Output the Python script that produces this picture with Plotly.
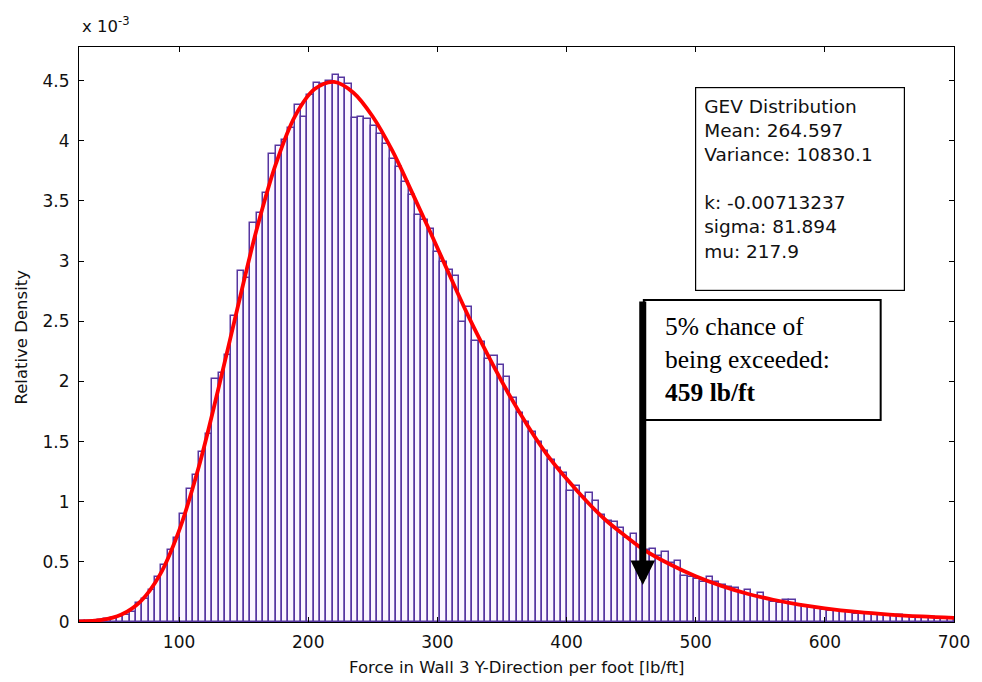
import plotly.graph_objects as go

# ---------------- data (density values in units of 1e-3) ----------------
bin_left = 22.5      # lb/ft, left edge of first histogram bin
bin_width = 4.91     # lb/ft
hist_density_e3 = [
    0.005, 0.008, 0.012, 0.018, 0.028, 0.035, 0.045, 0.06, 0.085, 0.16,
    0.19, 0.27, 0.37, 0.475, 0.60, 0.70, 0.895, 1.105, 1.22, 1.415,
    1.56, 2.02, 2.07, 2.22, 2.54, 2.92, 2.86, 3.32, 3.40, 3.57,
    3.89, 3.96, 4.01, 4.11, 4.30, 4.20, 4.38, 4.48, 4.47, 4.50,
    4.55, 4.52, 4.47, 4.19, 4.20, 4.18, 4.12, 4.06, 3.97, 3.85,
    3.78, 3.66, 3.55, 3.38, 3.34, 3.27, 3.08, 2.99, 2.93, 2.88,
    2.49, 2.62, 2.34, 2.33, 2.19, 2.21, 2.14, 2.04, 1.86, 1.74,
    1.66, 1.58, 1.50, 1.42, 1.35, 1.28, 1.24, 1.09, 1.13, 1.04,
    1.07, 1.01, 0.89, 0.84, 0.83, 0.78, 0.70, 0.73, 0.63, 0.60,
    0.61, 0.55, 0.58, 0.49, 0.51, 0.38, 0.37, 0.36, 0.33, 0.37,
    0.335, 0.31, 0.29, 0.28, 0.24, 0.27, 0.22, 0.24, 0.19, 0.17,
    0.16, 0.18, 0.18, 0.14, 0.13, 0.125, 0.11, 0.10, 0.095, 0.09,
    0.095, 0.085, 0.07, 0.075, 0.065, 0.07, 0.06, 0.06, 0.05, 0.055,
    0.045, 0.045, 0.04, 0.035, 0.04, 0.035, 0.035, 0.03,
]
fit_x = [22.5, 40, 55, 70, 85, 100, 115, 130, 145, 160, 175, 190, 205, 220, 235,
         250, 265, 280, 295, 310, 325, 340, 355, 370, 385, 400, 415, 430, 445,
         460, 480, 500, 520, 540, 560, 580, 600, 625, 650, 675, 700]
fit_density_e3 = [0.005, 0.017, 0.06, 0.17, 0.39, 0.76, 1.28, 1.92, 2.60, 3.26,
                  3.81, 4.21, 4.43, 4.49, 4.40, 4.20, 3.92, 3.58, 3.23, 2.87,
                  2.52, 2.20, 1.90, 1.63, 1.39, 1.19, 1.01, 0.85, 0.72, 0.60,
                  0.48, 0.38, 0.30, 0.235, 0.185, 0.145, 0.114, 0.084, 0.062,
                  0.046, 0.034]
x_ticks = [100, 200, 300, 400, 500, 600, 700]
y_ticks = [0, 0.5, 1, 1.5, 2, 2.5, 3, 3.5, 4, 4.5]
y_tick_labels = ["0", "0.5", "1", "1.5", "2", "2.5", "3", "3.5", "4", "4.5"]
gev_lines = ["GEV Distribution", "Mean: 264.597", "Variance: 10830.1", " ",
             "k: -0.00713237", "sigma: 81.894", "mu: 217.9"]
exceed_value = 459   # lb/ft

# ---------------- layout geometry (pixels) ----------------
W, H = 982, 682
L, R, T, B = 79, 962, 47, 622
x_range = [bin_left, 700]
y_range = [0, 4.78]

def px(xp):
    return (xp - L) / (R - L)

def py(yp):
    return (B - yp) / (B - T)

centers = [bin_left + bin_width * (i + 0.5) for i in range(len(hist_density_e3))]

fig = go.Figure()
fig.add_trace(go.Bar(
    x=centers, y=hist_density_e3, width=bin_width,
    marker=dict(color="#fbf6ff", line=dict(color="#5636a0", width=1.5)),
    hoverinfo="skip", showlegend=False,
))
fig.add_trace(go.Scatter(
    x=fit_x, y=fit_density_e3, mode="lines",
    line=dict(color="#ff0000", width=3.8, shape="spline", smoothing=1.0),
    showlegend=False, hoverinfo="skip",
))

axis_font = dict(family="DejaVu Sans", size=17, color="#111111")
fig.update_layout(
    width=W, height=H,
    margin=dict(l=L, r=W - R, t=T, b=H - B, pad=0),
    paper_bgcolor="white", plot_bgcolor="white",
    bargap=0, font=axis_font,
    xaxis=dict(range=x_range, tickvals=x_ticks, ticks="inside", ticklen=5,
               tickcolor="black", showline=True, linecolor="black", linewidth=1.2,
               mirror="ticks", showgrid=False, zeroline=False, tickfont=axis_font,
               ticklabelstandoff=4),
    yaxis=dict(range=y_range, tickvals=y_ticks, ticktext=y_tick_labels,
               ticks="inside", ticklen=5, tickcolor="black", showline=True,
               linecolor="black", linewidth=1.2, mirror="ticks", showgrid=False,
               zeroline=False, tickfont=axis_font, ticklabelstandoff=5),
)

exceed_text = "5% chance of<br>being exceeded:<br><b>" + str(exceed_value) + " lb/ft</b>"

annotations = [
    dict(text="Force in Wall 3 Y-Direction per foot [lb/ft]", xref="paper", yref="paper",
         x=0.5, y=py(667), xanchor="center", yanchor="middle", showarrow=False,
         font=dict(family="DejaVu Sans", size=16.5, color="#111111")),
    dict(text="Relative Density", xref="paper", yref="paper", x=px(20), y=py(337),
         xanchor="center", yanchor="middle", textangle=-90, showarrow=False,
         font=dict(family="DejaVu Sans", size=16.5, color="#111111")),
    dict(text="x 10<sup>-3</sup>", xref="paper", yref="paper", x=px(80), y=py(38),
         xanchor="left", yanchor="bottom", showarrow=False,
         font=dict(family="DejaVu Sans", size=16.5, color="#111111")),
    dict(text="<br>".join(gev_lines), xref="paper", yref="paper",
         x=px(701), y=py(87), xanchor="left", yanchor="top", align="left",
         valign="top", width=192, height=186, showarrow=False,
         bordercolor="black", borderwidth=1.2, borderpad=8, bgcolor="white",
         font=dict(family="DejaVu Sans", size=18.5, color="#111111")),
    # arrow marking the 5% exceedance value
    dict(x=exceed_value, y=(B - 585) / (B - T) * y_range[1], xref="x", yref="y",
         ax=exceed_value, ay=(B - 300) / (B - T) * y_range[1], axref="x", ayref="y",
         text="", showarrow=True, arrowhead=2, arrowsize=0.7, arrowwidth=7,
         arrowcolor="black", standoff=0, startstandoff=0),
    dict(text=exceed_text,
         xref="paper", yref="paper", x=px(668), y=py(310), xanchor="left",
         yanchor="top", align="left", showarrow=False,
         font=dict(family="Liberation Serif", size=25.5, color="black")),
]
fig.update_layout(annotations=annotations)
fig.add_shape(type="rect", xref="paper", yref="paper",
              x0=px(649), x1=px(888), y0=py(420), y1=py(300),
              line=dict(color="black", width=2), fillcolor="white", layer="above")

fig.write_html("out.html")
